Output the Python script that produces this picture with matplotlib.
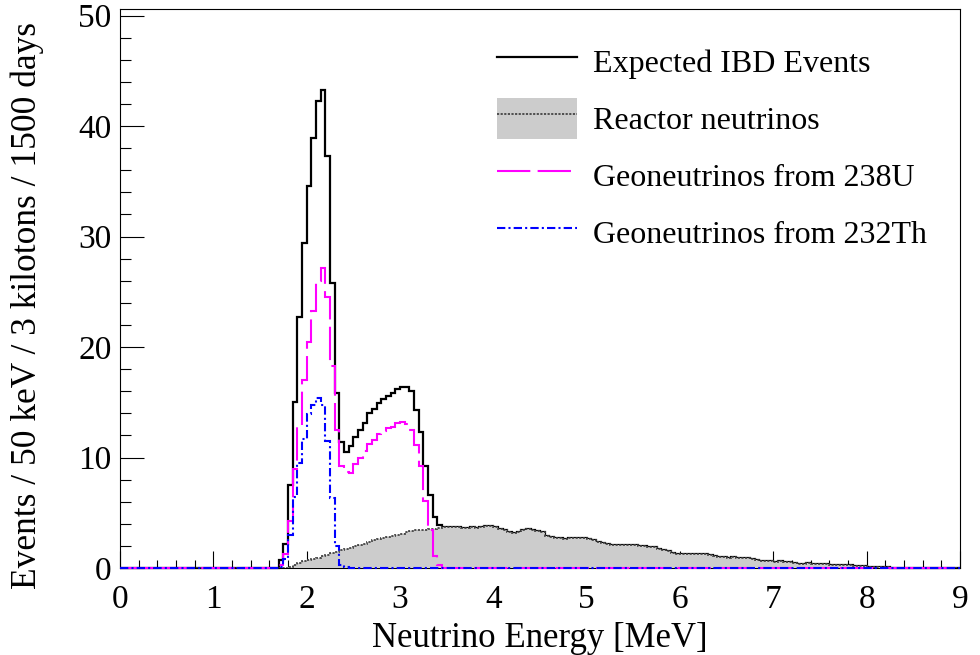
import numpy as np
import matplotlib
matplotlib.use("Agg")
import matplotlib.pyplot as plt
from matplotlib.lines import Line2D
from matplotlib.patches import Patch
from matplotlib.ticker import MultipleLocator

BIN_WIDTH = 0.05          # MeV
E_MIN, E_MAX = 0.0, 9.0
FIRST_BIN = 1.70          # lower edge of the first non-empty bin

# events per 50 keV bin, listed from FIRST_BIN upwards
ibd_peak = [0.7, 2.2, 7.5, 15.0, 22.7, 29.4, 34.6, 38.9, 42.3, 43.3,
            37.3, 25.8, 15.8, 11.4, 10.5, 11.0, 11.9, 12.5, 13.1, 14.0,
            14.4, 14.9, 15.3, 15.6, 15.8, 16.2, 16.4, 16.4, 16.0, 14.3,
            12.3, 9.2, 6.6, 4.6, 3.9]

uranium = [0.3, 1.3, 4.3, 9.0, 12.8, 17.0, 20.5, 23.3, 26.0, 27.2,
           24.5, 18.3, 12.5, 9.2, 8.7, 8.6, 9.4, 10.0, 10.6, 11.2,
           11.6, 12.1, 12.4, 12.7, 12.8, 13.1, 13.2, 13.0, 12.5, 11.1,
           9.2, 6.1, 3.4, 1.1, 0.3]

thorium = [0.1, 0.8, 3.0, 6.4, 9.5, 11.7, 13.9, 14.8, 15.4, 14.8,
           11.5, 6.3, 2.0, 0.3, 0.05]

reactor = [0.0, 0.0, 0.1, 0.3, 0.45, 0.6, 0.75, 0.85, 0.95, 1.05,
           1.2, 1.35, 1.45, 1.6, 1.75, 1.85, 1.95, 2.1, 2.2, 2.35,
           2.5, 2.6, 2.7, 2.8, 2.9, 3.0, 3.1, 3.25, 3.35, 3.4,
           3.45, 3.4, 3.5, 3.55, 3.65, 3.7, 3.7, 3.75, 3.7, 3.65,
           3.65, 3.7, 3.65, 3.75, 3.8, 3.8, 3.75, 3.55, 3.45, 3.25,
           3.2, 3.3, 3.45, 3.5, 3.45, 3.35, 3.25, 2.9, 2.8, 2.7,
           2.7, 2.65, 2.7, 2.75, 2.75, 2.7, 2.6, 2.5, 2.4, 2.25,
           2.2, 2.1, 2.1, 2.05, 2.1, 2.1, 2.05, 2.0, 1.95, 1.9,
           1.9, 1.75, 1.6, 1.55, 1.4, 1.3, 1.3, 1.3, 1.3, 1.25,
           1.3, 1.25, 1.15, 1.05, 1.0, 1.0, 0.95, 1.0, 0.95, 0.9,
           0.9, 0.85, 0.7, 0.65, 0.6, 0.6, 0.55, 0.6, 0.55, 0.5,
           0.45, 0.4, 0.4, 0.45, 0.4, 0.35, 0.4, 0.35, 0.3, 0.3,
           0.25, 0.3, 0.25, 0.2, 0.2, 0.15, 0.1, 0.1, 0.05, 0.05,
           0.05]

legend_labels = ["Expected IBD Events", "Reactor neutrinos",
                 "Geoneutrinos from 238U", "Geoneutrinos from 232Th"]

n_bins = int(round((E_MAX - E_MIN) / BIN_WIDTH))
edges = np.linspace(E_MIN, E_MAX, n_bins + 1)
start = int(round((FIRST_BIN - E_MIN) / BIN_WIDTH))


def full_range(values):
    h = np.zeros(n_bins)
    h[start:start + len(values)] = values
    return h


h_reactor = full_range(reactor)
h_uranium = full_range(uranium)
h_thorium = full_range(thorium)
# above the geoneutrino window the total is just the reactor spectrum
h_total = h_reactor.copy()
h_total[start:start + len(ibd_peak)] = ibd_peak

plt.rcParams["font.family"] = ["Liberation Serif", "DejaVu Serif"]
plt.rcParams["font.size"] = 24

fig = plt.figure(figsize=(9.8, 6.55), dpi=100)
ax = fig.add_axes([0.1224, 0.1328, 0.8572, 0.8535])

magenta_dash = (0, (16, 3.5))
blue_dashdot = (0, (4, 1.5, 1, 1.5))
reactor_dots = (0, (1.2, 0.8))

ax.stairs(h_total, edges, color="black", lw=1.6, zorder=2, clip_on=False)
ax.stairs(h_reactor, edges, fill=True, color="#cccccc", zorder=3)
ax.stairs(h_reactor, edges, color="#444444", lw=1.3, ls=reactor_dots, zorder=4)
ax.stairs(h_uranium, edges, color="#ff00ff", lw=1.5, ls=magenta_dash, zorder=5,
          clip_on=False)
ax.stairs(h_thorium, edges, color="#0000ff", lw=1.5, ls=blue_dashdot, zorder=6,
          clip_on=False)

ax.set_xlim(E_MIN, E_MAX)
ax.set_ylim(0, 50.6)
ax.xaxis.set_major_locator(MultipleLocator(1))
ax.xaxis.set_minor_locator(MultipleLocator(0.2))
ax.yaxis.set_major_locator(MultipleLocator(10))
ax.yaxis.set_minor_locator(MultipleLocator(2))
ax.set_axisbelow(True)
ax.tick_params(axis="both", which="both", direction="in", top=False, right=False)
ax.tick_params(axis="x", which="major", length=12, width=0.8, pad=12)
ax.tick_params(axis="x", which="minor", length=6, width=0.8)
ax.tick_params(axis="y", which="major", length=17, width=0.8, pad=6)
ax.tick_params(axis="y", which="minor", length=8, width=0.8)
for spine in ax.spines.values():
    spine.set_linewidth(0.8)

ax.set_xlabel("Neutrino Energy [MeV]", fontsize=25, labelpad=5)
ax.set_ylabel("Events / 50 keV / 3 kilotons / 1500 days", fontsize=25.5)
ax.yaxis.set_label_coords(-0.09, 0.47)

handles = [
    Line2D([], [], color="black", lw=1.6),
    (Patch(facecolor="#cccccc", edgecolor="none"),
     Line2D([], [], color="#444444", lw=1.3, ls=reactor_dots)),
    Line2D([], [], color="#ff00ff", lw=1.5, ls=magenta_dash),
    Line2D([], [], color="#0000ff", lw=1.5, ls=blue_dashdot),
]
ax.legend(handles, legend_labels, loc="upper left", bbox_to_anchor=(0.43, 0.971),
          frameon=False, fontsize=23, borderpad=0, handlelength=2.5,
          handleheight=1.6, handletextpad=0.5, labelspacing=0.5)

fig.savefig("out.png", dpi=100)
